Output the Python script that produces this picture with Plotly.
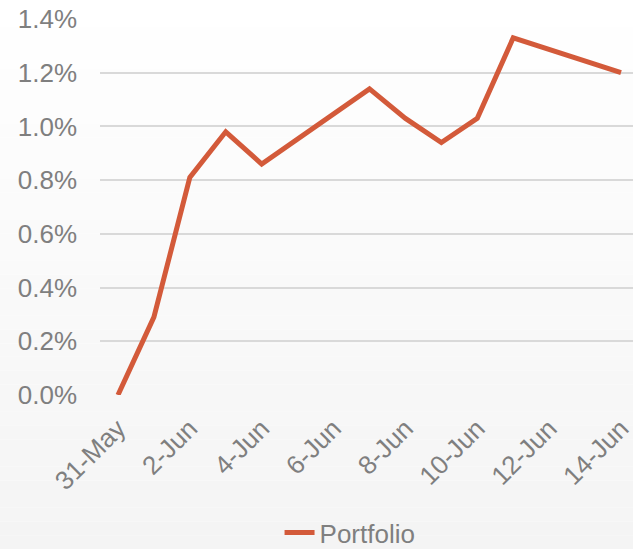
import plotly.graph_objects as go

dates = ["2021-05-31", "2021-06-01", "2021-06-02", "2021-06-03", "2021-06-04",
         "2021-06-07", "2021-06-08", "2021-06-09", "2021-06-10", "2021-06-11",
         "2021-06-14"]
portfolio = [0.00, 0.29, 0.81, 0.98, 0.86, 1.14, 1.03, 0.94, 1.03, 1.33, 1.20]
series_name = "Portfolio"

W, H = 633, 549
ML, MR, MT, MB = 100, 0, 19, 154
ph = H - MT - MB

fig = go.Figure()
fig.add_trace(go.Scatter(
    x=dates, y=portfolio, mode="lines", name=series_name,
    line=dict(color="#D35A3A", width=5), showlegend=True,
))

# background gradient (white top to light grey bottom)
shapes = []
n = 40
top_p = 1 + MT / ph
bot_p = -MB / ph
for i in range(n):
    y0 = top_p - (top_p - bot_p) * i / n
    y1 = top_p - (top_p - bot_p) * (i + 1) / n
    t = (i + 0.5) / n
    v = int(round(255 - 11 * t))
    shapes.append(dict(type="rect", xref="paper", yref="paper",
                       x0=-ML / (W - ML - MR) - 0.01, x1=1.01, y0=y1, y1=y0,
                       fillcolor=f"rgb({v},{v},{v})", line=dict(width=0),
                       layer="below"))

fig.update_layout(
    width=W, height=H,
    margin=dict(l=ML, r=MR, t=MT, b=MB),
    paper_bgcolor="white",
    plot_bgcolor="rgba(0,0,0,0)",
    shapes=shapes,
    font=dict(family="Liberation Sans, Arial, sans-serif", size=26, color="#7F7F7F"),
    showlegend=True,
    legend=dict(orientation="h", xref="container", yref="container",
                x=0.553, xanchor="center", y=0.03, yanchor="middle",
                font=dict(size=26, color="#7F7F7F"), bgcolor="rgba(0,0,0,0)"),
    xaxis=dict(
        type="date",
        range=["2021-05-30 12:00", "2021-06-14 08:00"],
        tick0="2021-05-31", dtick=2 * 86400000,
        tickformat="%-d-%b", tickangle=-45,
        showgrid=False, zeroline=False, showline=False, ticks="",
        ticklabelstandoff=12, ticklabeloverflow="allow",
        tickfont=dict(size=26, color="#7F7F7F"),
    ),
    yaxis=dict(
        range=[0, 1.4], tick0=0, dtick=0.2, tickformat=".1f", ticksuffix="%",
        showgrid=True, gridcolor="#D9D9D9", gridwidth=1.5,
        zeroline=False, showline=False, ticks="",
        ticklabelstandoff=22,
        tickfont=dict(size=26, color="#7F7F7F"),
    ),
)

fig.write_html("out.html", config={"displayModeBar": False},
               post_script="document.body.style.margin='0';")
